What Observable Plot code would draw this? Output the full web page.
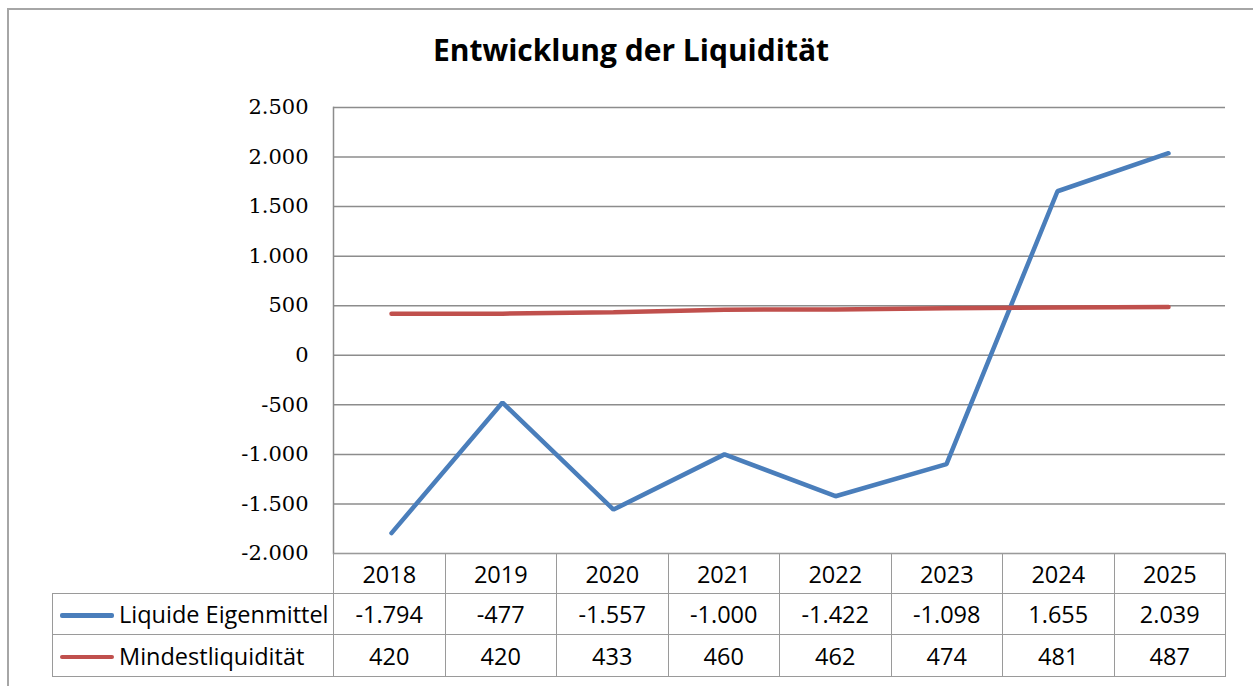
<!DOCTYPE html>
<html><head><meta charset="utf-8">
<script src="https://cdn.jsdelivr.net/npm/d3@7"></script>
<script src="https://cdn.jsdelivr.net/npm/@observablehq/plot@0.6"></script>
<style>
body{margin:0;background:#fff;}
#wrap{position:relative;width:1253px;height:686px;overflow:hidden;background:#fff;}
#outer{position:absolute;left:7px;top:8px;width:1300px;height:700px;border-left:2px solid #a6a6a6;border-top:2px solid #a6a6a6;}
#title{position:absolute;left:0;width:1262px;top:29px;text-align:center;font:bold 30px "Open Sans";color:#000;}
#chart{position:absolute;left:0;top:0;}
#tbl{position:absolute;left:52px;top:553px;border-collapse:collapse;table-layout:fixed;font-family:"Open Sans";font-size:23.5px;color:#000;}
#tbl td{border:1.5px solid #9a9a9a;text-align:center;padding:0;white-space:nowrap;overflow:hidden;}
#tbl td.blank{border-top:none;border-left:none;}
#tbl td.leg{text-align:left;padding-left:7px;}
.sw{display:inline-block;width:54px;height:4.5px;border-radius:2px;vertical-align:middle;margin-right:5px;position:relative;top:-1px;}
</style></head>
<body>
<div id="wrap">
  <div id="outer"></div>
  <div id="title"></div>
  <div id="chart"></div>
  <table id="tbl"></table>
</div>
<script>
const title = "Entwicklung der Liquidität";
const years = ["2018","2019","2020","2021","2022","2023","2024","2025"];
const liquideEigenmittel = [-1794, -477, -1557, -1000, -1422, -1098, 1655, 2039];
const mindestliquiditaet = [420, 420, 433, 460, 462, 474, 481, 487];
const seriesNames = ["Liquide Eigenmittel", "Mindestliquidität"];
const seriesColors = ["#4a7ebb", "#c0504d"];
const yTicks = [-2000, -1500, -1000, -500, 0, 500, 1000, 1500, 2000, 2500];

const loc = d3.formatLocale({decimal: ",", thousands: ".", grouping: [3], currency: ["", " €"], minus: "-"});
const fmt = loc.format(",");

document.getElementById("title").textContent = title;

const rows = [];
years.forEach((y, i) => {
  rows.push({year: y, value: liquideEigenmittel[i], series: seriesNames[0]});
  rows.push({year: y, value: mindestliquiditaet[i], series: seriesNames[1]});
});

const chart = Plot.plot({
  width: 1253,
  height: 686,
  marginLeft: 333,
  marginRight: 28,
  marginTop: 107,
  marginBottom: 133,
  style: {fontFamily: "DejaVu Serif", fontSize: "21px", background: "transparent", color: "#000"},
  x: {type: "point", domain: years, padding: 0.5, axis: null},
  y: {domain: [-2000, 2500], ticks: yTicks, label: null},
  color: {domain: seriesNames, range: seriesColors},
  marks: [
    Plot.gridY(yTicks, {stroke: "#8c8c8c", strokeOpacity: 1, strokeWidth: 1.5}),
    Plot.frame({anchor: "left", stroke: "#8c8c8c", strokeWidth: 1.5}),
    Plot.axisY(yTicks, {tickSize: 0, tickPadding: 25, tickFormat: fmt, fill: "#000", fontSize: 21, label: null}),
    Plot.line(rows, {x: "year", y: "value", z: "series", stroke: "series", strokeWidth: 4.5, strokeLinejoin: "miter", strokeLinecap: "round"})
  ]
});
document.getElementById("chart").appendChild(chart);

// data table
const tbl = document.getElementById("tbl");
const cg = document.createElement("colgroup");
const c0 = document.createElement("col"); c0.style.width = "281px"; cg.appendChild(c0);
years.forEach(() => { const c = document.createElement("col"); c.style.width = "111.5px"; cg.appendChild(c); });
tbl.appendChild(cg);
const tr0 = document.createElement("tr"); tr0.style.height = "40px";
const b = document.createElement("td"); b.className = "blank"; tr0.appendChild(b);
years.forEach(y => { const td = document.createElement("td"); td.textContent = y; tr0.appendChild(td); });
tbl.appendChild(tr0);
[liquideEigenmittel, mindestliquiditaet].forEach((vals, si) => {
  const tr = document.createElement("tr"); tr.style.height = si === 0 ? "41px" : "42px";
  const lg = document.createElement("td"); lg.className = "leg";
  const sw = document.createElement("span"); sw.className = "sw"; sw.style.background = seriesColors[si];
  lg.appendChild(sw); lg.appendChild(document.createTextNode(seriesNames[si]));
  tr.appendChild(lg);
  vals.forEach(v => { const td = document.createElement("td"); td.textContent = fmt(v); tr.appendChild(td); });
  tbl.appendChild(tr);
});
</script>
</body></html>
